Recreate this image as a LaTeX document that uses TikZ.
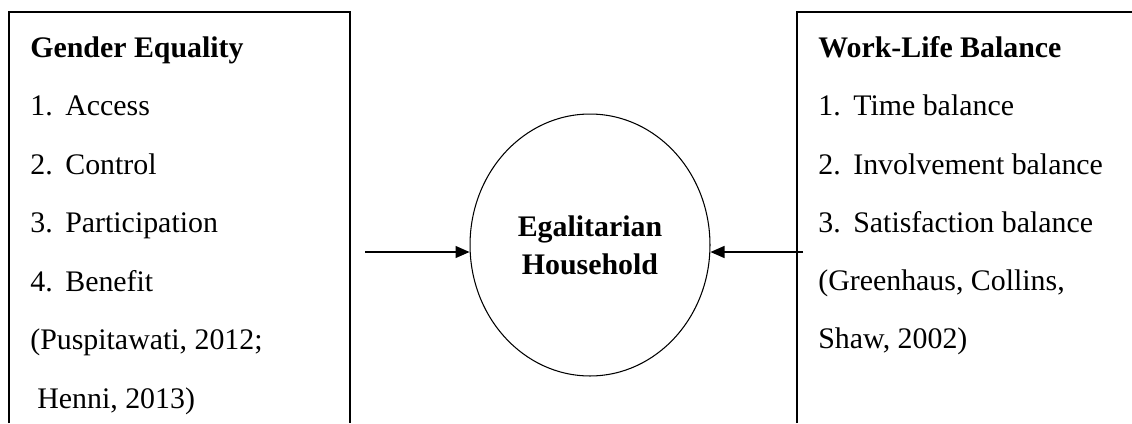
\documentclass[tikz,border=0pt]{standalone}
\usepackage{fontspec}
\setmainfont{Liberation Serif}
\usetikzlibrary{shapes.geometric,arrows.meta,positioning}
\newcommand{\itemno}[1]{\makebox[0.7cm][l]{#1}}

\begin{document}
\begin{tikzpicture}[x=0.02cm, y=-0.02cm,
        item/.style={anchor=base west, inner sep=0pt, font=\fontsize{17}{20}\selectfont},
        heading/.style={item, font=\fontsize{17}{20}\selectfont\bfseries},
        hub/.style={draw, ellipse, line width=0.6pt, inner sep=0pt, minimum width=4.8cm,
          minimum height=5.24cm, align=center, font=\fontsize{17}{21.6}\selectfont\bfseries},
        frame/.style={line width=0.75pt},
        link/.style={line width=0.75pt, -{Triangle[length=0.28cm, width=0.24cm]}}
      ]
        \useasboundingbox (0,0) rectangle (1132,423);
        % left box
        \draw[frame] (9,423) -- (9,12) -- (350,12) -- (350,423);
        \node[heading] (ge) at (30,57) {Gender Equality};
        \node[item] (ge1) at (30,115) {\itemno{1.}Access};
        \node[item] (ge2) at (30,174) {\itemno{2.}Control};
        \node[item] (ge3) at (30,232) {\itemno{3.}Participation};
        \node[item] (ge4) at (30,291) {\itemno{4.}Benefit};
        \node[item] (gesrc1) at (30,349) {(Puspitawati, 2012;};
        \node[item] (gesrc2) at (37,408) {Henni, 2013)};
        % right box
        \draw[frame] (797,423) -- (797,12) -- (1132,12);
        \node[heading] (wl) at (818,57) {Work-Life Balance};
        \node[item] (wl1) at (818,115) {\itemno{1.}Time balance};
        \node[item] (wl2) at (818,174) {\itemno{2.}Involvement balance};
        \node[item] (wl3) at (818,232) {\itemno{3.}Satisfaction balance};
        \node[item] (wlsrc1) at (818,290) {(Greenhaus, Collins,};
        \node[item] (wlsrc2) at (818,348) {Shaw, 2002)};
        % centre
        \node[hub] (house) at (590,245) {Egalitarian\\Household};
        \coordinate (gin) at (365,252);
        \coordinate (win) at (803,252);
        \draw[link] (gin) -- (gin -| house.west);
        \draw[link] (win) -- (win -| house.east);
      \end{tikzpicture}
\end{document}
